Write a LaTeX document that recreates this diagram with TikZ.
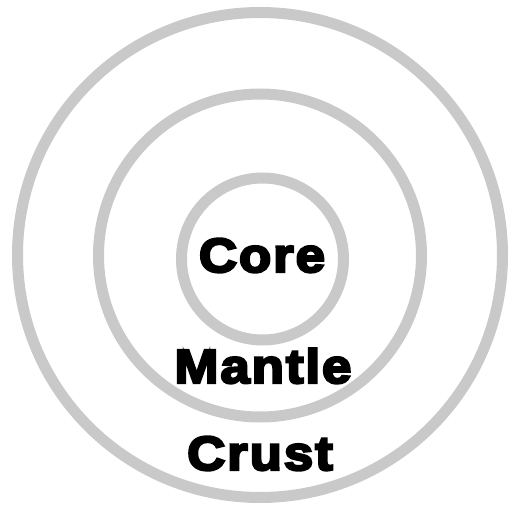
\documentclass[tikz,border=0pt]{standalone}
\usepackage{fontspec}
\newfontfamily\layerfont{Liberation Sans}[UprightFont=* Bold, UprightFeatures={FakeBold=5, FakeStretch=1.1, LetterSpace=4}]
\usepackage{tikz}

\tikzset{
  ring/.style={draw=black!21, line width=11pt},
  layer/.style={anchor=base, inner sep=0pt, font=\layerfont\fontsize{48}{48}\selectfont}
}

\begin{document}
\begin{tikzpicture}[x=1pt,y=-1pt]
    \useasboundingbox (0,0) rectangle (512,508);
    % Schalen
    \draw[ring] (260,255) circle (242.5);
    \draw[ring] (260,255.5) circle (161.5);
    \draw[ring] (262.5,259) circle (81);
    % Beschriftung
    \node[layer] (core) at (262,272) {Core};
    \node[layer] (mantle) at (263,383) {Mantle};
    \node[layer] (crust) at (260,470) {Crust};
\end{tikzpicture}
\end{document}
